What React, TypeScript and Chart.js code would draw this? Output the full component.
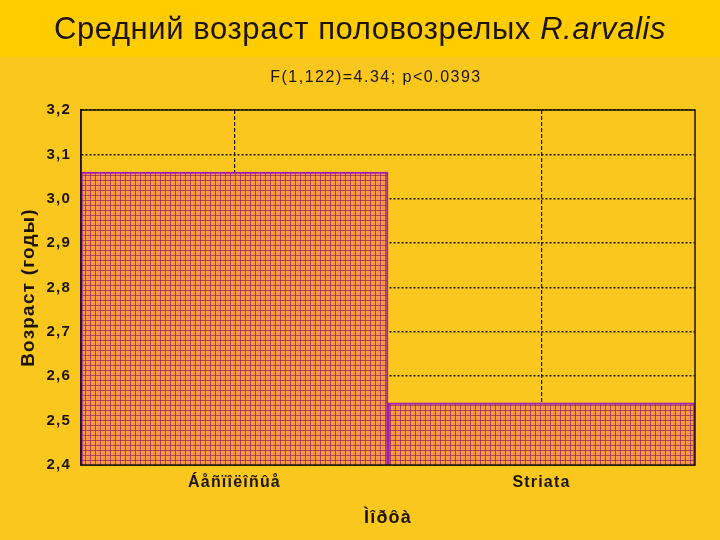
import React, { useEffect, useRef } from 'react';
import { Chart, registerables } from 'chart.js';

Chart.register(...registerables);

// ---- data ----
const categories: string[] = ['Áåñïîëîñûå', 'Striata'];
const meanAge: number[] = [3.06, 2.54];
const yTicks: number[] = [2.4, 2.5, 2.6, 2.7, 2.8, 2.9, 3.0, 3.1, 3.2];
const titleText = 'Средний возраст половозрелых ';
const titleSpecies = 'R.arvalis';
const subtitleText = 'F(1,122)=4.34; p<0.0393';
const xAxisTitle = 'Ìîðôà';
const yAxisTitle = 'Возраст (годы)';

const FONT = '"Liberation Sans", Arial, sans-serif';
const INK = '#1c1408';

function makePattern(): CanvasPattern | string {
  const c = document.createElement('canvas');
  c.width = 5;
  c.height = 5;
  const g = c.getContext('2d');
  if (!g) return '#F3A050';
  g.fillStyle = '#F8A438';
  g.fillRect(0, 0, 5, 5);
  g.fillStyle = 'rgba(240,120,120,0.35)';
  g.fillRect(3, 0, 1, 5);
  g.fillRect(0, 3, 5, 1);
  g.fillStyle = 'rgba(150,30,100,0.72)';
  g.fillRect(0, 0, 1, 5);
  g.fillRect(0, 0, 5, 1);
  return g.createPattern(c, 'repeat') || '#F3A050';
}

const decorPlugin = {
  id: 'decor',
  beforeDraw(chart: any) {
    const { ctx, width, height } = chart;
    ctx.save();
    ctx.letterSpacing = '0px';
    ctx.fillStyle = '#F9C71E';
    ctx.fillRect(0, 0, width, height);
    ctx.fillStyle = '#FFCC00';
    ctx.fillRect(0, 0, width, 57);

    // main title (normal + italic species name)
    ctx.fillStyle = INK;
    ctx.textBaseline = 'middle';
    ctx.textAlign = 'left';
    ctx.letterSpacing = '0.6px';
    ctx.font = `31px ${FONT}`;
    const w1 = ctx.measureText(titleText).width;
    ctx.font = `italic 31px ${FONT}`;
    const w2 = ctx.measureText(titleSpecies).width;
    let x = (width - w1 - w2) / 2;
    ctx.font = `31px ${FONT}`;
    ctx.fillText(titleText, x, 30);
    x += w1;
    ctx.font = `italic 31px ${FONT}`;
    ctx.fillText(titleSpecies, x, 30);

    // subtitle
    ctx.font = `16px ${FONT}`;
    ctx.letterSpacing = '1.5px';
    ctx.textAlign = 'center';
    ctx.fillText(subtitleText, 376, 78);
    ctx.restore();
    ctx.letterSpacing = '1.2px';
  },
  afterDatasetsDraw(chart: any) {
    const { ctx, chartArea } = chart;
    ctx.save();
    ctx.strokeStyle = INK;
    ctx.lineWidth = 1.5;
    ctx.setLineDash([]);
    ctx.strokeRect(chartArea.left, chartArea.top, chartArea.right - chartArea.left, chartArea.bottom - chartArea.top);
    ctx.restore();
  },
  afterDraw(chart: any) {
    chart.ctx.letterSpacing = '0px';
  },
};

export default function App() {
  const ref = useRef<HTMLCanvasElement>(null);

  useEffect(() => {
    if (!ref.current) return;
    const pattern = makePattern();
    const chart = new Chart(ref.current, {
      type: 'bar',
      data: {
        labels: categories,
        datasets: [
          {
            data: meanAge,
            backgroundColor: pattern as any,
            borderColor: '#A21CB8',
            borderWidth: 2,
            barPercentage: 1,
            categoryPercentage: 1,
          },
        ],
      },
      options: {
        animation: false,
        responsive: false,
        devicePixelRatio: 1,
        layout: { padding: { top: 110, right: 25, bottom: 0, left: 0 } },
        plugins: {
          legend: { display: false },
          tooltip: { enabled: false },
          title: { display: false },
        },
        scales: {
          x: {
            afterFit: (s: any) => {
              s.height = 75;
            },
            grid: { offset: false, color: INK, lineWidth: 1.2, drawTicks: false },
            border: { display: true, color: INK, width: 1.5, dash: [4, 2] },
            ticks: {
              padding: 8,
              color: INK,
              font: { family: FONT, size: 16, weight: 'bold' },
            },
            title: {
              display: true,
              text: xAxisTitle,
              color: INK,
              font: { family: FONT, size: 18, weight: 'bold' },
              padding: { top: 0, bottom: 11 },
            },
          },
          y: {
            min: yTicks[0],
            max: yTicks[yTicks.length - 1],
            afterFit: (s: any) => {
              s.width = 81;
            },
            afterBuildTicks: (s: any) => {
              s.ticks = yTicks.map((v) => ({ value: v }));
            },
            grid: { color: INK, lineWidth: 1.5, drawTicks: false },
            border: { display: true, color: INK, width: 1.5, dash: [2, 2] },
            ticks: {
              padding: 10,
              color: INK,
              font: { family: FONT, size: 15, weight: 'bold' },
              callback: (v: any) => Number(v).toFixed(1).replace('.', ','),
            },
            title: {
              display: true,
              text: yAxisTitle,
              color: INK,
              font: { family: FONT, size: 19, weight: 'bold' },
              padding: { top: 17, bottom: 0 },
            },
          },
        },
      },
      plugins: [decorPlugin],
    } as any);
    return () => chart.destroy();
  }, []);

  return (
    <div style={{ position: 'fixed', left: 0, top: 0, width: 720, height: 540, background: '#F9C71E' }}>
      <canvas ref={ref} width={720} height={540} />
    </div>
  );
}
